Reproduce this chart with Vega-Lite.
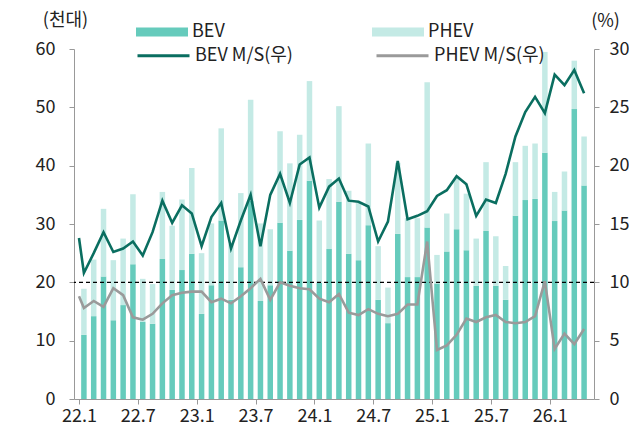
{
  "$schema": "https://vega.github.io/schema/vega-lite/v6.json",
  "autosize": {"type": "pad"},
  "padding": {"left": 35, "top": 6, "right": 0, "bottom": 0},
  "background": "white",
  "spacing": 0,
  "config": {
    "font": "Noto Sans CJK KR",
    "view": {"stroke": null},
    "axis": {"grid": false, "domainColor": "#999999", "tickColor": "#999999", "tickSize": 5, "labelColor": "#222222", "labelFontSize": 18, "titleFontSize": 18, "titleFontWeight": "normal", "titleColor": "#222222"},
    "legend": {"labelFontSize": 18, "labelColor": "#222222", "labelOffset": 4, "symbolSize": 2704, "title": null}
  },
  "datasets": {
    "bars": [
      {"i": 0, "m": "22.1", "BEV": 11.0, "PHEV": 7.9},
      {"i": 1, "m": "22.2", "BEV": 14.2, "PHEV": 9.7},
      {"i": 2, "m": "22.3", "BEV": 21.0, "PHEV": 11.6},
      {"i": 3, "m": "22.4", "BEV": 13.5, "PHEV": 10.3},
      {"i": 4, "m": "22.5", "BEV": 16.1, "PHEV": 11.4},
      {"i": 5, "m": "22.6", "BEV": 23.1, "PHEV": 12.0},
      {"i": 6, "m": "22.7", "BEV": 13.2, "PHEV": 7.4},
      {"i": 7, "m": "22.8", "BEV": 12.9, "PHEV": 6.8},
      {"i": 8, "m": "22.9", "BEV": 24.0, "PHEV": 11.5},
      {"i": 9, "m": "22.10", "BEV": 18.7, "PHEV": 11.0},
      {"i": 10, "m": "22.11", "BEV": 22.1, "PHEV": 12.1},
      {"i": 11, "m": "22.12", "BEV": 24.9, "PHEV": 14.7},
      {"i": 12, "m": "23.1", "BEV": 14.6, "PHEV": 10.4},
      {"i": 13, "m": "23.2", "BEV": 19.5, "PHEV": 10.6},
      {"i": 14, "m": "23.3", "BEV": 30.6, "PHEV": 15.8},
      {"i": 15, "m": "23.4", "BEV": 17.0, "PHEV": 9.5},
      {"i": 16, "m": "23.5", "BEV": 22.6, "PHEV": 12.7},
      {"i": 17, "m": "23.6", "BEV": 34.0, "PHEV": 17.3},
      {"i": 18, "m": "23.7", "BEV": 16.8, "PHEV": 13.3},
      {"i": 19, "m": "23.8", "BEV": 19.5, "PHEV": 9.6},
      {"i": 20, "m": "23.9", "BEV": 30.2, "PHEV": 15.7},
      {"i": 21, "m": "23.10", "BEV": 25.4, "PHEV": 15.0},
      {"i": 22, "m": "23.11", "BEV": 30.7, "PHEV": 14.6},
      {"i": 23, "m": "23.12", "BEV": 37.4, "PHEV": 17.1},
      {"i": 24, "m": "24.1", "BEV": 19.9, "PHEV": 10.7},
      {"i": 25, "m": "24.2", "BEV": 25.7, "PHEV": 12.0},
      {"i": 26, "m": "24.3", "BEV": 33.8, "PHEV": 16.4},
      {"i": 27, "m": "24.4", "BEV": 24.9, "PHEV": 10.8},
      {"i": 28, "m": "24.5", "BEV": 23.8, "PHEV": 9.8},
      {"i": 29, "m": "24.6", "BEV": 29.8, "PHEV": 14.0},
      {"i": 30, "m": "24.7", "BEV": 17.0, "PHEV": 9.2},
      {"i": 31, "m": "24.8", "BEV": 13.0, "PHEV": 6.1},
      {"i": 32, "m": "24.9", "BEV": 28.3, "PHEV": 12.2},
      {"i": 33, "m": "24.10", "BEV": 20.9, "PHEV": 10.1},
      {"i": 34, "m": "24.11", "BEV": 20.9, "PHEV": 10.1},
      {"i": 35, "m": "24.12", "BEV": 29.4, "PHEV": 24.9},
      {"i": 36, "m": "25.1", "BEV": 19.8, "PHEV": 4.9},
      {"i": 37, "m": "25.2", "BEV": 25.3, "PHEV": 6.5},
      {"i": 38, "m": "25.3", "BEV": 29.1, "PHEV": 8.8},
      {"i": 39, "m": "25.4", "BEV": 25.5, "PHEV": 9.7},
      {"i": 40, "m": "25.5", "BEV": 19.4, "PHEV": 8.1},
      {"i": 41, "m": "25.6", "BEV": 28.8, "PHEV": 11.8},
      {"i": 42, "m": "25.7", "BEV": 19.4, "PHEV": 8.5},
      {"i": 43, "m": "25.8", "BEV": 17.0, "PHEV": 5.8},
      {"i": 44, "m": "25.9", "BEV": 31.4, "PHEV": 9.2},
      {"i": 45, "m": "25.10", "BEV": 34.1, "PHEV": 9.3},
      {"i": 46, "m": "25.11", "BEV": 34.3, "PHEV": 9.5},
      {"i": 47, "m": "25.12", "BEV": 42.2, "PHEV": 17.3},
      {"i": 48, "m": "26.1", "BEV": 30.5, "PHEV": 5.0},
      {"i": 49, "m": "26.2", "BEV": 32.3, "PHEV": 6.7},
      {"i": 50, "m": "26.3", "BEV": 49.7, "PHEV": 8.3},
      {"i": 51, "m": "26.4", "BEV": 36.6, "PHEV": 8.4}
    ],
    "lines": [
      {"i": -0.5, "m": "edge", "BEV M/S(우)": 13.8, "PHEV M/S(우)": 8.8},
      {"i": 0, "m": "22.1", "BEV M/S(우)": 10.8, "PHEV M/S(우)": 7.8},
      {"i": 1, "m": "22.2", "BEV M/S(우)": 12.5, "PHEV M/S(우)": 8.4},
      {"i": 2, "m": "22.3", "BEV M/S(우)": 14.3, "PHEV M/S(우)": 7.9},
      {"i": 3, "m": "22.4", "BEV M/S(우)": 12.6, "PHEV M/S(우)": 9.5},
      {"i": 4, "m": "22.5", "BEV M/S(우)": 12.9, "PHEV M/S(우)": 8.9},
      {"i": 5, "m": "22.6", "BEV M/S(우)": 13.5, "PHEV M/S(우)": 7.0},
      {"i": 6, "m": "22.7", "BEV M/S(우)": 12.3, "PHEV M/S(우)": 6.8},
      {"i": 7, "m": "22.8", "BEV M/S(우)": 14.3, "PHEV M/S(우)": 7.3},
      {"i": 8, "m": "22.9", "BEV M/S(우)": 17.0, "PHEV M/S(우)": 8.2},
      {"i": 9, "m": "22.10", "BEV M/S(우)": 15.1, "PHEV M/S(우)": 8.9},
      {"i": 10, "m": "22.11", "BEV M/S(우)": 16.6, "PHEV M/S(우)": 9.1},
      {"i": 11, "m": "22.12", "BEV M/S(우)": 15.9, "PHEV M/S(우)": 9.2},
      {"i": 12, "m": "23.1", "BEV M/S(우)": 13.1, "PHEV M/S(우)": 9.2},
      {"i": 13, "m": "23.2", "BEV M/S(우)": 15.6, "PHEV M/S(우)": 8.3},
      {"i": 14, "m": "23.3", "BEV M/S(우)": 16.8, "PHEV M/S(우)": 8.6},
      {"i": 15, "m": "23.4", "BEV M/S(우)": 12.9, "PHEV M/S(우)": 8.2},
      {"i": 16, "m": "23.5", "BEV M/S(우)": 15.3, "PHEV M/S(우)": 8.8},
      {"i": 17, "m": "23.6", "BEV M/S(우)": 17.5, "PHEV M/S(우)": 9.5},
      {"i": 18, "m": "23.7", "BEV M/S(우)": 13.1, "PHEV M/S(우)": 10.3},
      {"i": 19, "m": "23.8", "BEV M/S(우)": 17.5, "PHEV M/S(우)": 8.5},
      {"i": 20, "m": "23.9", "BEV M/S(우)": 19.3, "PHEV M/S(우)": 10.0},
      {"i": 21, "m": "23.10", "BEV M/S(우)": 16.8, "PHEV M/S(우)": 9.7},
      {"i": 22, "m": "23.11", "BEV M/S(우)": 20.1, "PHEV M/S(우)": 9.5},
      {"i": 23, "m": "23.12", "BEV M/S(우)": 20.7, "PHEV M/S(우)": 9.4},
      {"i": 24, "m": "24.1", "BEV M/S(우)": 16.4, "PHEV M/S(우)": 8.6},
      {"i": 25, "m": "24.2", "BEV M/S(우)": 18.2, "PHEV M/S(우)": 8.3},
      {"i": 26, "m": "24.3", "BEV M/S(우)": 18.9, "PHEV M/S(우)": 9.0},
      {"i": 27, "m": "24.4", "BEV M/S(우)": 17.0, "PHEV M/S(우)": 7.4},
      {"i": 28, "m": "24.5", "BEV M/S(우)": 16.9, "PHEV M/S(우)": 7.2},
      {"i": 29, "m": "24.6", "BEV M/S(우)": 16.5, "PHEV M/S(우)": 7.7},
      {"i": 30, "m": "24.7", "BEV M/S(우)": 13.5, "PHEV M/S(우)": 7.3},
      {"i": 31, "m": "24.8", "BEV M/S(우)": 15.2, "PHEV M/S(우)": 7.1},
      {"i": 32, "m": "24.9", "BEV M/S(우)": 20.4, "PHEV M/S(우)": 7.3},
      {"i": 33, "m": "24.10", "BEV M/S(우)": 15.4, "PHEV M/S(우)": 8.1},
      {"i": 34, "m": "24.11", "BEV M/S(우)": 15.7, "PHEV M/S(우)": 8.1},
      {"i": 35, "m": "24.12", "BEV M/S(우)": 16.1, "PHEV M/S(우)": 13.5},
      {"i": 36, "m": "25.1", "BEV M/S(우)": 17.4, "PHEV M/S(우)": 4.2},
      {"i": 37, "m": "25.2", "BEV M/S(우)": 17.9, "PHEV M/S(우)": 4.6},
      {"i": 38, "m": "25.3", "BEV M/S(우)": 19.1, "PHEV M/S(우)": 5.5},
      {"i": 39, "m": "25.4", "BEV M/S(우)": 18.4, "PHEV M/S(우)": 6.9},
      {"i": 40, "m": "25.5", "BEV M/S(우)": 15.7, "PHEV M/S(우)": 6.6},
      {"i": 41, "m": "25.6", "BEV M/S(우)": 17.1, "PHEV M/S(우)": 7.0},
      {"i": 42, "m": "25.7", "BEV M/S(우)": 16.8, "PHEV M/S(우)": 7.2},
      {"i": 43, "m": "25.8", "BEV M/S(우)": 19.3, "PHEV M/S(우)": 6.6},
      {"i": 44, "m": "25.9", "BEV M/S(우)": 22.5, "PHEV M/S(우)": 6.5},
      {"i": 45, "m": "25.10", "BEV M/S(우)": 24.6, "PHEV M/S(우)": 6.6},
      {"i": 46, "m": "25.11", "BEV M/S(우)": 25.9, "PHEV M/S(우)": 7.1},
      {"i": 47, "m": "25.12", "BEV M/S(우)": 24.5, "PHEV M/S(우)": 10.1},
      {"i": 48, "m": "26.1", "BEV M/S(우)": 27.8, "PHEV M/S(우)": 4.3},
      {"i": 49, "m": "26.2", "BEV M/S(우)": 26.9, "PHEV M/S(우)": 5.6},
      {"i": 50, "m": "26.3", "BEV M/S(우)": 28.2, "PHEV M/S(우)": 4.7},
      {"i": 51, "m": "26.4", "BEV M/S(우)": 26.2, "PHEV M/S(우)": 6.0}
    ]
  },
  "hconcat": [
    {
      "width": 520,
      "height": 350,
      "layer": [
        {
          "layer": [
            {
              "data": {"name": "bars"},
              "transform": [{"fold": ["BEV", "PHEV"], "as": ["series", "value"]}],
              "mark": {"type": "bar", "size": 5.5},
              "encoding": {
                "x": {
                  "field": "i", "type": "quantitative",
                  "scale": {"domain": [-0.5, 51.5], "nice": false, "zero": false},
                  "axis": {
                    "title": null,
                    "values": [-0.5, 5.5, 11.5, 17.5, 23.5, 29.5, 35.5, 41.5, 47.5],
                    "labelExpr": "(22 + floor((datum.value + 0.5) / 12)) + '.' + (((datum.value + 0.5) % 12) + 1)",
                    "labelPadding": 3,
                    "labelFlush": false,
                    "labelOverlap": false
                  }
                },
                "y": {
                  "field": "value", "type": "quantitative", "stack": "zero",
                  "scale": {"domain": [0, 60], "nice": false},
                  "axis": {
                    "values": [0, 10, 20, 30, 40, 50, 60],
                    "title": "(천대)", "titleAngle": 0, "titleAlign": "center", "titleBaseline": "middle",
                    "titleX": -9, "titleY": -29, "labelPadding": 14
                  }
                },
                "color": {
                  "field": "series", "type": "nominal",
                  "scale": {"domain": ["BEV", "PHEV"], "range": ["#66CBBC", "#C4EAE5"]},
                  "legend": {
                    "orient": "none", "legendX": 62, "legendY": -43, "direction": "horizontal",
                    "columnPadding": 147, "symbolType": "M-1,-0.173H1V0.173H-1Z", "symbolStrokeWidth": 0, "symbolOpacity": 1
                  }
                },
                "order": {"field": "series", "sort": "ascending"}
              }
            },
            {
              "data": {"values": [{}]},
              "mark": {"type": "rule", "color": "#000000", "strokeWidth": 1.2, "strokeDash": [4, 3]},
              "encoding": {"y": {"datum": 20, "type": "quantitative"}}
            }
          ]
        },
        {
          "data": {"name": "lines"},
          "transform": [{"fold": ["BEV M/S(우)", "PHEV M/S(우)"], "as": ["series", "value"]}],
          "mark": {"type": "line", "strokeWidth": 2.6, "clip": true},
          "encoding": {
            "x": {
              "field": "i", "type": "quantitative",
              "scale": {"domain": [-0.5, 51.5], "nice": false, "zero": false}
            },
            "y": {
              "field": "value", "type": "quantitative",
              "scale": {"domain": [0, 30], "nice": false},
              "axis": {
                "orient": "right", "values": [0, 5, 10, 15, 20, 25, 30],
                "title": "(%)", "titleAngle": 0, "titleAlign": "center", "titleBaseline": "middle",
                "titleX": 11, "titleY": -28, "labelPadding": 10
              }
            },
            "stroke": {
              "field": "series", "type": "nominal",
              "scale": {"domain": ["BEV M/S(우)", "PHEV M/S(우)"], "range": ["#0A6E60", "#9A9A9A"]},
              "legend": {
                "orient": "none", "legendX": 62, "legendY": -21, "direction": "horizontal",
                "columnPadding": 77, "symbolType": "stroke", "symbolStrokeWidth": 3
              }
            }
          }
        }
      ],
      "resolve": {"scale": {"y": "independent"}}
    }
  ]
}
